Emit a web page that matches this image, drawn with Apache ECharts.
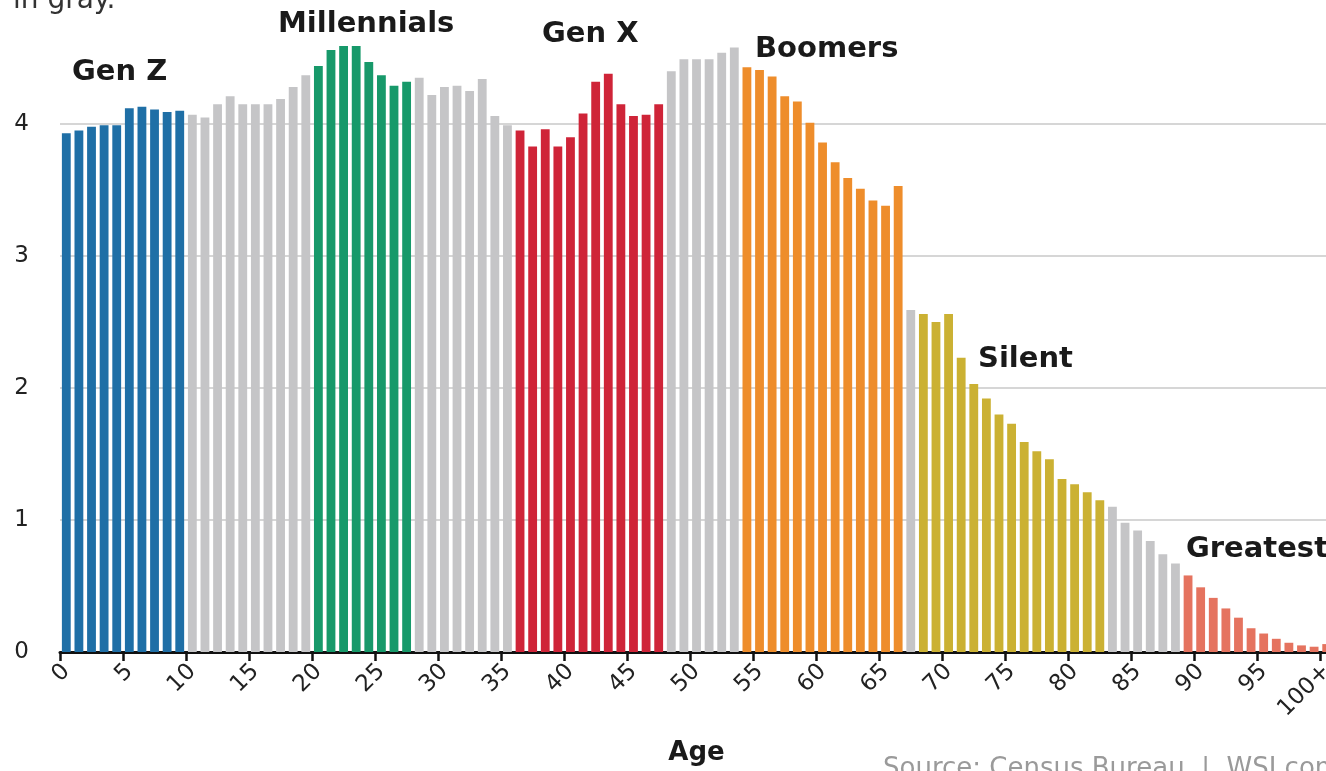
<!DOCTYPE html>
<html>
<head>
<meta charset="utf-8">
<script src="https://cdn.jsdelivr.net/npm/echarts@6/dist/echarts.min.js"></script>
<style>
html,body{margin:0;padding:0;background:#fff;overflow:hidden;}
#chart{width:1326px;height:771px;}
</style>
</head>
<body>
<div id="chart"></div>
<script>
// Ages (categories)
const ages = [];
for (let a = 0; a <= 99; a++) ages.push(String(a));
ages.push('100+');

// Population by single year of age (millions)
const population = [
  3.93, 3.95, 3.98, 3.99, 3.99, 4.12, 4.13, 4.11, 4.09, 4.10,
  4.07, 4.05, 4.15, 4.21, 4.15, 4.15, 4.15, 4.19, 4.28, 4.37,
  4.44, 4.56, 4.59, 4.59, 4.47, 4.37, 4.29, 4.32, 4.35, 4.22,
  4.28, 4.29, 4.25, 4.34, 4.06, 3.99, 3.95, 3.83, 3.96, 3.83,
  3.90, 4.08, 4.32, 4.38, 4.15, 4.06, 4.07, 4.15, 4.40, 4.49,
  4.49, 4.49, 4.54, 4.58, 4.43, 4.41, 4.36, 4.21, 4.17, 4.01,
  3.86, 3.71, 3.59, 3.51, 3.42, 3.38, 3.53, 2.59, 2.56, 2.50,
  2.56, 2.23, 2.03, 1.92, 1.80, 1.73, 1.59, 1.52, 1.46, 1.31,
  1.27, 1.21, 1.15, 1.10, 0.98, 0.92, 0.84, 0.74, 0.67, 0.58,
  0.49, 0.41, 0.33, 0.26, 0.18, 0.14, 0.10, 0.07, 0.05, 0.04,
  0.06
];

// Generation groups: name, first age index, last age index
const generationNames = ['Gen Z', 'Millennials', 'Gen X', 'Boomers', 'Silent', 'Greatest'];
const generationStart = [0, 20, 36, 54, 68, 89];
const generationEnd   = [9, 27, 47, 66, 82, 100];
const generationColors = ['#1f6fa6', '#17996a', '#cf2438', '#ee8d2b', '#cbb133', '#e5735f'];
const betweenColor = '#c5c5c7';

// Y-axis tick labels
const yTicks = [0, 1, 2, 3, 4];

function colorForIndex(i) {
  for (let g = 0; g < generationNames.length; g++) {
    if (i >= generationStart[g] && i <= generationEnd[g]) return generationColors[g];
  }
  return betweenColor;
}

const barData = population.map((v, i) => ({
  value: v,
  itemStyle: { color: colorForIndex(i) }
}));

const chart = echarts.init(document.getElementById('chart'), null, { renderer: 'canvas' });

const labelFont = 'DejaVu Sans';

chart.setOption({
  animation: false,
  backgroundColor: '#ffffff',
  grid: { left: 60, right: -7, top: -8, bottom: 119, containLabel: false, outerBoundsMode: 'none' },
  xAxis: {
    type: 'category',
    data: ages,
    boundaryGap: true,
    name: 'Age',
    nameLocation: 'middle',
    nameGap: 88,
    nameTextStyle: { fontFamily: labelFont, fontWeight: 'bold', fontSize: 26, color: '#1a1a1a' },
    axisLine: { show: true, lineStyle: { color: '#111', width: 3 } },
    axisTick: {
      show: true,
      length: 9,
      lineStyle: { color: '#111', width: 2.5 },
      interval: function (index) { return index % 5 === 0; }
    },
    axisLabel: {
      interval: function (index) { return index % 5 === 0; },
      rotate: 45,
      margin: 16,
      fontFamily: labelFont,
      fontSize: 23,
      color: '#222'
    },
    splitLine: { show: false }
  },
  yAxis: {
    type: 'value',
    min: 0,
    max: 5,
    interval: 1,
    axisLine: { show: false },
    axisTick: { show: false },
    axisLabel: {
      margin: 31,
      fontFamily: labelFont,
      fontSize: 23,
      color: '#222',
      formatter: function (v) { return yTicks.indexOf(v) >= 0 ? String(v) : ''; }
    },
    splitLine: { show: true, lineStyle: { color: '#c8c8c8', width: 1.5 } }
  },
  series: [{
    type: 'bar',
    data: barData,
    barCategoryGap: '30%',
    z: 2
  }],
  graphic: [
    { type: 'text', left: 13, top: -13, style: { text: 'in gray.', font: '28px "DejaVu Sans"', fill: '#333' } },
    { type: 'text', left: 72, top: 58, style: { text: generationNames[0], font: 'bold 29px "DejaVu Sans"', fill: '#1a1a1a' } },
    { type: 'text', left: 278, top: 10, style: { text: generationNames[1], font: 'bold 29px "DejaVu Sans"', fill: '#1a1a1a' } },
    { type: 'text', left: 542, top: 20, style: { text: generationNames[2], font: 'bold 29px "DejaVu Sans"', fill: '#1a1a1a' } },
    { type: 'text', left: 755, top: 35, style: { text: generationNames[3], font: 'bold 29px "DejaVu Sans"', fill: '#1a1a1a' } },
    { type: 'text', left: 978, top: 345, style: { text: generationNames[4], font: 'bold 29px "DejaVu Sans"', fill: '#1a1a1a' } },
    { type: 'text', left: 1186, top: 535, style: { text: generationNames[5], font: 'bold 29px "DejaVu Sans"', fill: '#1a1a1a' } },
    { type: 'text', left: 883, top: 756, style: { text: 'Source: Census Bureau  |  WSJ.com', font: '26px "DejaVu Sans"', fill: '#9a9a9a' } }
  ]
});
</script>
</body>
</html>
